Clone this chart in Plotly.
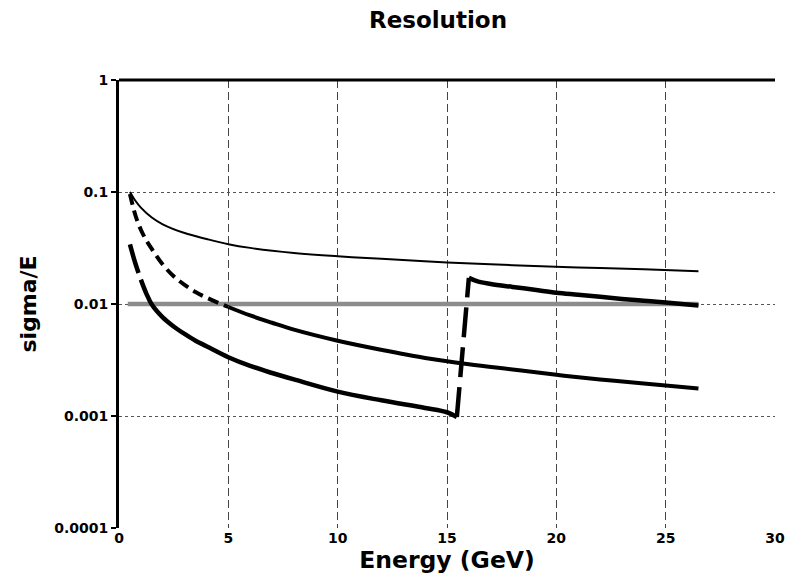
import plotly.graph_objects as go

# ---- data ----
energy_a = [0.5, 0.75, 1, 1.5, 2, 3, 4, 5, 6, 8, 10, 12, 15, 18, 21, 24, 26.5]
res_a = [0.1, 0.0835, 0.0725, 0.0592, 0.0515, 0.0430, 0.0381, 0.0342, 0.0317, 0.0286,
         0.0267, 0.0253, 0.0235, 0.0222, 0.0212, 0.0204, 0.0196]

energy_b = [0.5, 0.75, 1.0, 1.25, 1.5, 2, 2.5, 3, 3.5, 4, 5, 6, 7, 8, 10, 12, 14, 16, 18,
            20, 22, 24, 26.5]
res_b = [0.096, 0.062, 0.046, 0.037, 0.031, 0.0225, 0.0177, 0.0148, 0.0128, 0.0114, 0.0094,
         0.0079, 0.0068, 0.0059, 0.0047, 0.0039, 0.0033, 0.0029, 0.0026, 0.00233, 0.00212,
         0.00195, 0.00176]

energy_c = [0.5, 0.75, 1.0, 1.25, 1.5, 2, 2.5, 3, 3.5, 4, 5, 6, 7, 8, 10, 12, 14, 15, 15.45,
            16.0, 16.4, 17, 18, 19, 20, 21, 22, 23, 24, 25, 26.5]
res_c = [0.034, 0.023, 0.0165, 0.0124, 0.0099, 0.0076, 0.0063, 0.0054, 0.0047, 0.0042,
         0.00335, 0.0028, 0.00242, 0.00212, 0.00165, 0.00138, 0.00118, 0.00108, 0.00098,
         0.0171, 0.0159, 0.0151, 0.0142, 0.0134, 0.0126, 0.0121, 0.0116, 0.0111, 0.0107,
         0.0103, 0.0097]

ref_energy = [0.4, 26.5]
ref_res = [0.01, 0.01]

x_ticks = [0, 5, 10, 15, 20, 25, 30]
y_ticks = [0.0001, 0.001, 0.01, 0.1, 1]
y_labels = ["0.0001", "0.001", "0.01", "0.1", "1"]

FONT = "DejaVu Sans"

fig = go.Figure()


def seg(x, y, width, dash="solid"):
    fig.add_trace(go.Scatter(x=x, y=y, mode="lines",
                             line=dict(color="black", width=width, dash=dash,
                                       shape="spline", smoothing=1.0)))


# reference line at 0.01 (grey)
fig.add_trace(go.Scatter(x=ref_energy, y=ref_res, mode="lines",
                         line=dict(color="#8c8c8c", width=4.5)))

# thin solid curve
seg(energy_a, res_a, 2)

# medium curve: dashed in the steep part, solid afterwards
i5 = energy_b.index(5)
seg(energy_b[:i5 + 1], res_b[:i5 + 1], 4, "11px,6px")
seg(energy_b[i5:], res_b[i5:], 4)

# thick curve: long dash at start, solid, long-dash jump, solid
j1 = energy_c.index(1.0)
jlo = energy_c.index(15.45)
jhi = energy_c.index(16.0)
seg(energy_c[:j1 + 1], res_c[:j1 + 1], 4.5, "30px,8px")
seg(energy_c[j1:jlo + 1], res_c[j1:jlo + 1], 4.5)
seg(energy_c[jlo:jhi + 1], res_c[jlo:jhi + 1], 4.5, "30px,10px")
seg(energy_c[jhi:], res_c[jhi:], 4.5)

fig.update_layout(
    width=785, height=578,
    margin=dict(l=119, r=10, t=80, b=50),
    paper_bgcolor="white", plot_bgcolor="white",
    showlegend=False,
    font=dict(family=FONT, color="black"),
    title=dict(text="Resolution", x=438 / 785, xref="container", xanchor="center",
               y=1 - 20 / 578, yref="container", yanchor="middle",
               font=dict(family=FONT, size=23, weight="bold", color="black")),
    xaxis=dict(range=[0, 30], tickvals=x_ticks, ticks="", showline=False,
               automargin=False,
               showgrid=True, gridcolor="#444444", gridwidth=1, griddash="8px,4px",
               zeroline=False,
               tickfont=dict(family=FONT, size=14, weight="bold", color="black"),
               title=dict(text="Energy (GeV)", standoff=3,
                          font=dict(family=FONT, size=23.5, weight="bold", color="black"))),
    yaxis=dict(type="log", range=[-4, 0], tickvals=y_ticks, ticktext=y_labels,
               automargin=False,
               ticks="outside", ticklen=5, tickwidth=2, tickcolor="black",
               showline=True, linecolor="black", linewidth=3,
               showgrid=True, gridcolor="#555555", gridwidth=1, griddash="3px,3px",
               zeroline=False,
               tickfont=dict(family=FONT, size=14, weight="bold", color="black"),
               title=dict(text="sigma/E", standoff=12,
                          font=dict(family=FONT, size=22, weight="bold", color="black"))),
    shapes=[dict(type="line", xref="paper", yref="paper", x0=0, x1=1, y0=1, y1=1,
                 line=dict(color="black", width=3))],
)

fig.write_html("out.html")
